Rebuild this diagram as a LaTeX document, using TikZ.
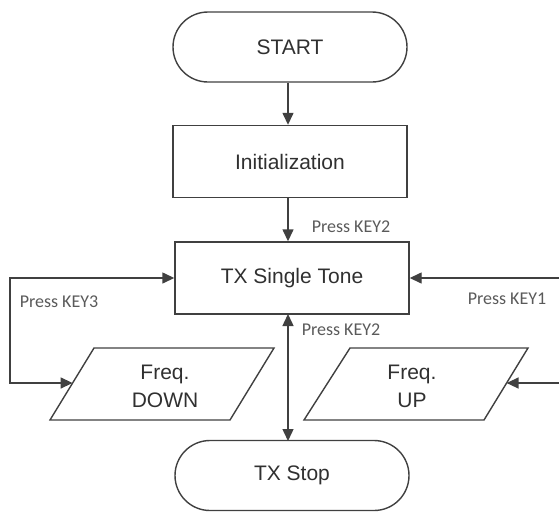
\documentclass[tikz,border=0pt]{standalone}
\usepackage{fontspec}
\setmainfont{Liberation Sans}
\newfontfamily\labfont{Carlito}
\usetikzlibrary{arrows.meta}
\definecolor{ln}{HTML}{404040}
\definecolor{tx}{HTML}{303030}
\definecolor{lb}{HTML}{5A5A5A}
\begin{document}
\begin{tikzpicture}[x=1pt,y=-1pt,
  box/.style={draw=ln, line width=1.4pt, minimum width=234pt, minimum height=72pt, inner sep=0pt, font=\fontsize{21}{25}\selectfont, text=tx},
  term/.style={box, rounded corners=35pt, minimum height=70pt},
  para/.style={draw=ln, line width=1.4pt},
  ptext/.style={align=center, inner sep=0pt, font=\fontsize{21}{28}\selectfont, text=tx},
  lab/.style={font=\labfont\fontsize{18}{20}\selectfont, text=lb, inner sep=0pt},
  conn/.style={draw=ln, line width=1.4pt, -{Triangle[length=12pt,width=11pt]}},
  conn2/.style={draw=ln, line width=1.4pt, {Triangle[length=12pt,width=11pt]}-{Triangle[length=12pt,width=11pt]}}]
\useasboundingbox (0,0) rectangle (559,512);

\node[term] (start) at (290,47) {START};
\node[box] (init) at (290,161.5) {Initialization};
\node[box] (tx) at (292,278) {TX Single Tone};
\node[term] (stop) at (292,475.5) {TX Stop};

\draw[para] (94,348) -- (274,348) -- (230,420) -- (50,420) -- cycle;
\node[ptext] (down) at (165,386) {Freq.\\DOWN};
\draw[para] (350,348) -- (528,348) -- (484,420) -- (304,420) -- cycle;
\node[ptext] (up) at (412,386) {Freq.\\UP};

\coordinate (dIn) at (72.6,383);
\coordinate (uIn) at (506.6,383);
\coordinate (lc1) at (10,278);
\coordinate (r1) at (559,278);
\coordinate (r2) at (559,383);
\coordinate (txb) at (288,314);
\coordinate (stt) at (288,441);

\draw[conn] (start.south -| 288,0) -- (init.north -| 288,0);
\draw[conn] (init.south -| 288,0) -- (tx.north -| 288,0);
\draw[conn2] (dIn) -| (lc1) -- (tx.west);
\draw[conn] (r1) -- (tx.east);
\draw[conn] (r2) -- (uIn);
\draw[conn2] (txb) -- (stt);

\node[lab] (k2a) at (351,227) {Press KEY2};
\node[lab] (k3) at (59,302) {Press KEY3};
\node[lab] (k1) at (507,299) {Press KEY1};
\node[lab] (k2b) at (341,330) {Press KEY2};
\end{tikzpicture}
\end{document}
